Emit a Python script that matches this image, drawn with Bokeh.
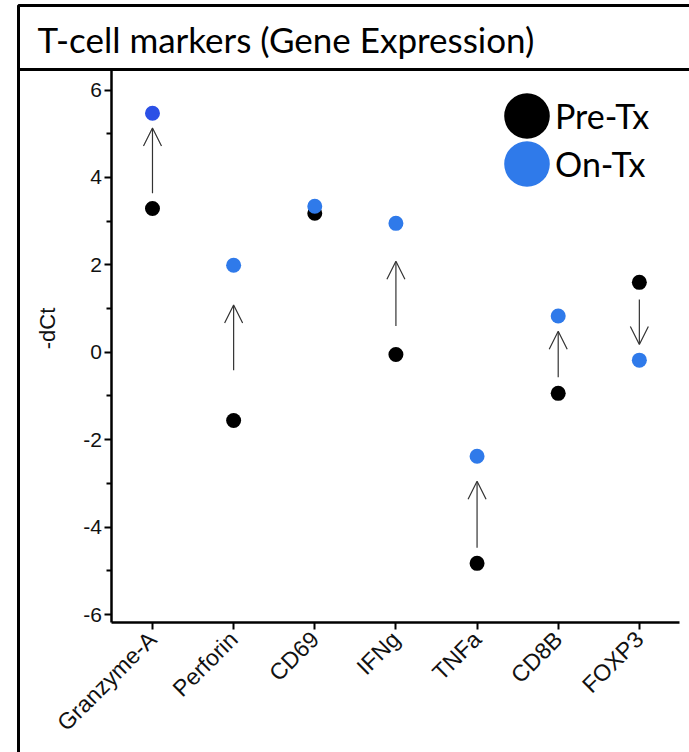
import math
from bokeh.plotting import figure
from bokeh.models import (ColumnDataSource, Range1d, Arrow, OpenHead, LinearAxis,
                          Label, Legend, LegendItem, BoxAnnotation, FixedTicker)
from bokeh.embed import file_html
from bokeh.resources import INLINE

# ---- data ----
categories = ["Granzyme-A", "Perforin", "CD69", "IFNg", "TNFa", "CD8B", "FOXP3"]
pre_tx = [3.29, -1.56, 3.18, -0.05, -4.83, -0.94, 1.60]
on_tx = [5.47, 1.99, 3.34, 2.95, -2.38, 0.83, -0.18]
on_tx_colors = ["#2B50E6", "#2F7AEA", "#2F7AEA", "#2F7AEA", "#2F7AEA", "#2F7AEA", "#2F7AEA"]

arrow_cats = ["Granzyme-A", "Perforin", "IFNg", "TNFa", "CD8B", "FOXP3"]
arrow_from = [3.64, -0.41, 0.60, -4.47, -0.57, 1.21]
arrow_to = [5.13, 1.08, 2.08, -2.95, 0.48, 0.18]

y_ticks = [-6, -4, -2, 0, 2, 4, 6]
y_minor_ticks = [-5, -3, -1, 1, 3, 5]

title_text = "T-cell markers (Gene Expression)"
y_label = "-dCt"
legend_labels = ["Pre-Tx", "On-Tx"]

AX_FONT = "Liberation Sans"
W, H = 689, 752

x_idx = list(range(len(categories)))
arrow_x = [categories.index(c) for c in arrow_cats]

# the frame spans the whole canvas; axes are fixed inside it
p = figure(x_range=Range1d(-1.873, 6.618), y_range=Range1d(-9.157, 8.048),
           width=W, height=H, output_backend="svg", toolbar_location=None,
           x_axis_location=None, y_axis_location=None,
           min_border=0, outline_line_color=None,
           background_fill_color="white", border_fill_color="white")
p.grid.visible = False

# y axis
ya = LinearAxis(fixed_location=-0.5, bounds=(-6.18, 6.45),
                ticker=FixedTicker(ticks=y_ticks, minor_ticks=y_minor_ticks),
                major_label_overrides={t: str(t) for t in y_ticks})
ya.major_label_text_font = AX_FONT
ya.major_label_text_font_size = "21px"
ya.major_label_text_color = "#111111"
ya.major_label_standoff = 3
ya.axis_line_width = 2.5
ya.major_tick_line_width = 2
ya.minor_tick_line_width = 2
ya.major_tick_out = 7
ya.major_tick_in = 0
ya.minor_tick_out = 5
ya.minor_tick_in = 0
p.add_layout(ya, "left")

# y axis title (placed beside the axis)
p.add_layout(Label(x=47, y=H - 328, x_units="screen", y_units="screen", text=y_label,
                   angle=math.pi / 2, text_align="center", text_baseline="middle",
                   text_font=AX_FONT, text_font_size="22px", text_color="#111111"))

# x axis (categories)
xa = LinearAxis(fixed_location=-6.18, bounds=(-0.5, 6.5),
                ticker=FixedTicker(ticks=x_idx),
                major_label_overrides={i: c for i, c in zip(x_idx, categories)})
xa.major_label_orientation = math.pi / 4
xa.major_label_text_font = AX_FONT
xa.major_label_text_font_size = "23px"
xa.major_label_text_color = "#111111"
xa.major_label_standoff = 6
xa.axis_line_width = 2.5
xa.major_tick_line_width = 2
xa.major_tick_out = 7
xa.major_tick_in = 0
xa.minor_tick_line_color = None
p.add_layout(xa, "below")

# outer frame lines
box_kw = dict(left_units="canvas", right_units="canvas", top_units="canvas",
              bottom_units="canvas", fill_color=None, fill_alpha=0,
              line_color="black", line_alpha=1.0, line_width=3, level="overlay")
p.add_layout(BoxAnnotation(left=18, right=760, top=5, bottom=69, **box_kw))
p.add_layout(BoxAnnotation(left=18, right=760, top=69, bottom=800, **box_kw))

# title
p.add_layout(Label(x=37, y=H - 38, x_units="screen", y_units="screen", text=title_text,
                   text_font="Lato", text_font_size="35px", text_color="black",
                   text_baseline="alphabetic"))

# arrows
arrow_src = ColumnDataSource(dict(x=arrow_x, y0=arrow_from, y1=arrow_to))
p.add_layout(Arrow(end=OpenHead(size=18, line_color="#333333", line_width=1.2),
                   source=arrow_src, x_start="x", y_start="y0", x_end="x", y_end="y1",
                   line_color="#333333", line_width=1.2))

# points
src = ColumnDataSource(dict(x=x_idx, pre=pre_tx, on=on_tx, oncol=on_tx_colors))
r_pre = p.ellipse(x="x", y="pre", source=src, width=15, height=15,
                  width_units="screen", height_units="screen",
                  fill_color="black", line_color=None)
r_on = p.ellipse(x="x", y="on", source=src, width=15, height=15,
                 width_units="screen", height_units="screen",
                 fill_color="oncol", line_color=None)

leg_kw = dict(glyph_width=57, glyph_height=57, label_standoff=0, padding=0, margin=0,
              border_line_color=None, background_fill_alpha=0, label_text_font="Lato",
              label_text_font_size="34px", label_text_color="black")
p.add_layout(Legend(items=[LegendItem(label=legend_labels[0], renderers=[r_pre], index=0)],
                    location=(498, 608), **leg_kw))
p.add_layout(Legend(items=[LegendItem(label=legend_labels[1], renderers=[r_on], index=1)],
                    location=(498, 560), **leg_kw))

open("out.html", "w").write(file_html(p, INLINE))
